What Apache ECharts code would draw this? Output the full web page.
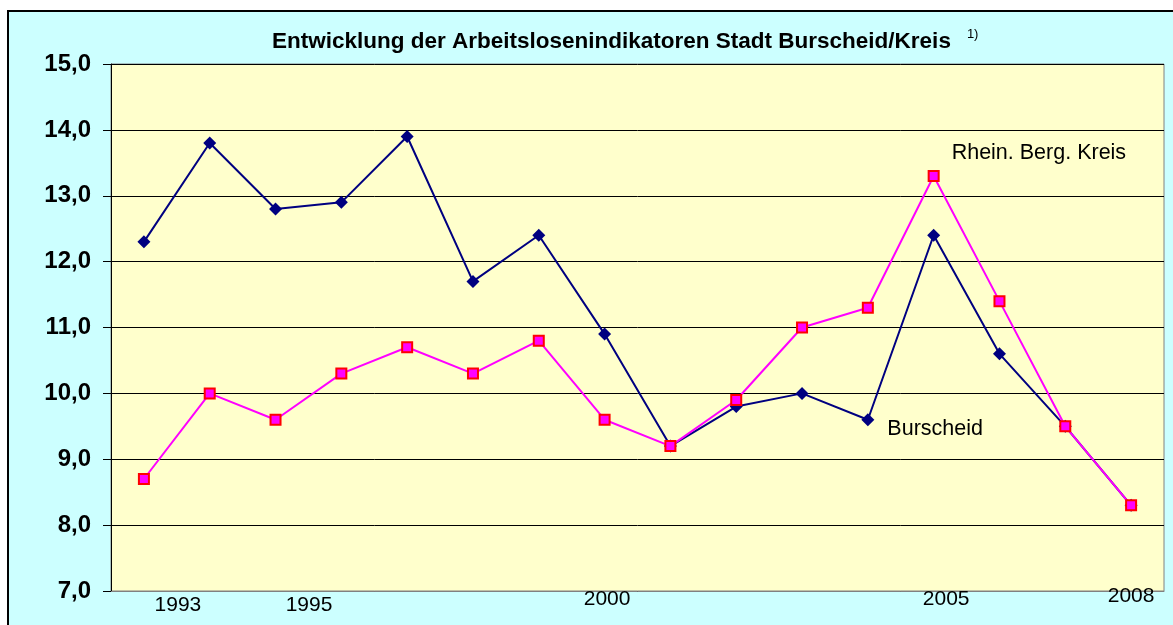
<!DOCTYPE html>
<html>
<head>
<meta charset="utf-8">
<script src="https://cdn.jsdelivr.net/npm/echarts@6/dist/echarts.min.js"></script>
<style>
  html, body { margin: 0; padding: 0; background: #ffffff; overflow: hidden; }
  #frame {
    position: absolute; left: 7px; top: 10px;
    width: 1180px; height: 630px;
    border: 2px solid #000000;
    background: #ccffff;
  }
  #chart { width: 1166px; height: 615px; }
</style>
</head>
<body>
<div id="frame"><div id="chart"></div></div>
<script>
// Jahre (Kategorien)
const years = ['1993', '1994', '1995', '1996', '1997', '1998', '1999', '2000',
  '2001', '2002', '2003', '2004', '2005', '2006', '2007', '2008']
// Arbeitslosenquote Burscheid
const burscheid = [12.3, 13.8, 12.8, 12.9, 13.9, 11.7, 12.4, 10.9,
  9.2, 9.8, 10.0, 9.6, 12.4, 10.6, 9.5, 8.3]
// Arbeitslosenquote Rhein. Berg. Kreis
const kreis = [8.7, 10.0, 9.6, 10.3, 10.7, 10.3, 10.8, 9.6,
  9.2, 9.9, 11.0, 11.3, 13.3, 11.4, 9.5, 8.3]
// beschriftete Jahre auf der X-Achse
const shownYears = ['1993', '1995', '2000', '2005', '2008']

const chart = echarts.init(document.getElementById('chart'))

const font = 'Liberation Sans, Arial, sans-serif'

// Stil für die Jahreszahlen, etwas nach rechts/unten versetzt wie im Original
function yearStyle(left, top) {
  return { fontFamily: font, fontSize: 21, color: '#000', padding: [top, 0, 0, left] }
}

chart.setOption({
  animation: false,
  title: {
    text: '{t|Entwicklung der Arbeitslosenindikatoren Stadt Burscheid/Kreis}{s|1)}',
    left: 258,
    top: 11,
    textStyle: {
      rich: {
        t: { fontFamily: font, fontSize: 22.5, fontWeight: 'bold', color: '#000' },
        s: { fontFamily: font, fontSize: 13, fontWeight: 'normal', color: '#000', padding: [0, 0, 14, 16] }
      }
    }
  },
  grid: {
    left: 102,
    top: 52,
    width: 1053,
    height: 527,
    show: true,
    backgroundColor: '#ffffcc',
    borderColor: '#808080',
    borderWidth: 1
  },
  xAxis: {
    type: 'category',
    data: years,
    boundaryGap: true,
    axisLine: { lineStyle: { color: '#808080', width: 1 } },
    axisTick: { show: false },
    axisLabel: {
      interval: 0,
      margin: -5,
      formatter: function (v) {
        if (shownYears.indexOf(v) < 0) return ''
        return '{y' + v + '|' + v + '}'
      },
      rich: {
        y1993: yearStyle(68, 9),
        y1995: yearStyle(67, 9),
        y2000: yearStyle(5, 3),
        y2005: yearStyle(25, 3),
        y2008: yearStyle(0, 0)
      }
    }
  },
  yAxis: {
    type: 'value',
    min: 7,
    max: 15,
    interval: 1,
    axisLine: { show: true, lineStyle: { color: '#000', width: 1 } },
    axisTick: { show: true, length: 8, lineStyle: { color: '#000' } },
    axisLabel: {
      margin: 20,
      fontFamily: font,
      fontSize: 24,
      fontWeight: 'bold',
      color: '#000',
      formatter: v => v.toFixed(1).replace('.', ',')
    },
    splitLine: { lineStyle: { color: '#000', width: 1 } }
  },
  series: [{
    name: 'Burscheid',
    type: 'line',
    data: burscheid.map((v, i) => i === 11 ? {
      value: v,
      label: {
        show: true,
        position: 'right',
        distance: 13,
        offset: [0, 9],
        formatter: 'Burscheid',
        fontFamily: font,
        fontSize: 21.5,
        color: '#000'
      }
    } : v),
    symbol: 'diamond',
    symbolSize: 13,
    itemStyle: { color: '#000080' },
    lineStyle: { color: '#000080', width: 2 },
    z: 3
  }, {
    name: 'Rhein. Berg. Kreis',
    type: 'line',
    data: kreis.map((v, i) => i === 12 ? {
      value: v,
      label: {
        show: true,
        position: 'right',
        distance: 12,
        offset: [0, -23],
        formatter: 'Rhein. Berg. Kreis',
        fontFamily: font,
        fontSize: 21.5,
        color: '#000'
      }
    } : v),
    symbol: 'rect',
    symbolSize: 10,
    itemStyle: { color: '#ff00ff', borderColor: '#ff0000', borderWidth: 2 },
    lineStyle: { color: '#ff00ff', width: 2 },
    z: 4
  }]
})
</script>
</body>
</html>
